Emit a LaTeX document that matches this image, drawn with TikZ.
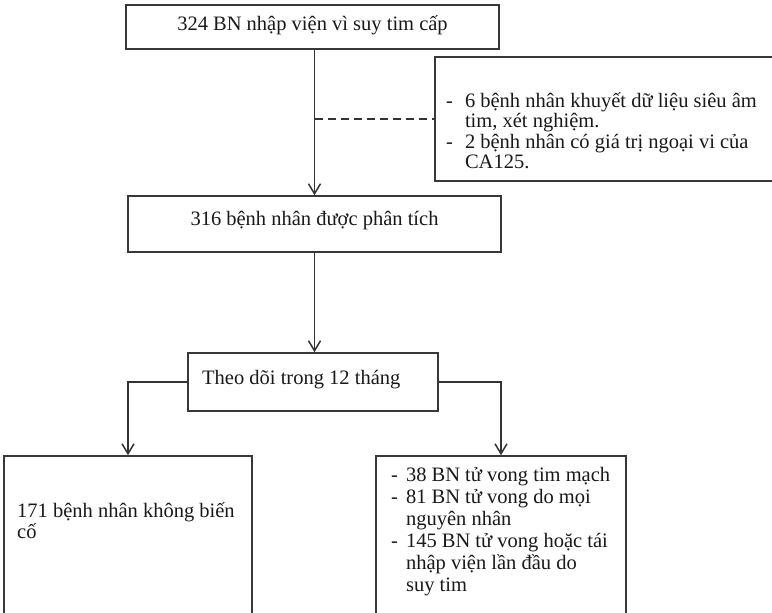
\documentclass[tikz,border=0pt]{standalone}
\usepackage{fontspec}
\setmainfont{Liberation Serif}
\usetikzlibrary{arrows.meta}
\begin{document}
\begin{tikzpicture}[x=1pt,y=-1pt,
  box/.style={draw=black!78, line width=1.6pt, rectangle, inner sep=0pt},
  lbl/.style={inner sep=0pt, text=black!90, font=\fontsize{20.5}{21}\selectfont},
  conn/.style={draw=black!80, line width=1.5pt},
  arr/.style={conn, -{Straight Barb[length=10pt,width=12pt,line width=1.5pt]}},
  dashline/.style={conn, dash pattern=on 8pt off 5pt}]
\useasboundingbox (0,0) rectangle (772,613);
\clip (0,0) rectangle (772,613);
% boxes
\node[box, minimum width=373pt, minimum height=44pt] (n1) at (312.5,27) {};
\node[lbl, anchor=base] (t1) at (312.5,30.5) {324 BN nhập viện vì suy tim cấp};
\node[box, minimum width=373pt, minimum height=56pt] (n2) at (314.5,224) {};
\node[lbl, anchor=base] (t2) at (314.5,225) {316 bệnh nhân được phân tích};
\node[box, minimum width=355pt, minimum height=124pt] (side) at (612.5,119) {};
\node[lbl, font=\fontsize{20.5}{20.5}\selectfont, anchor=base west] (ts) at (446,107) {\begin{tabular}[t]{@{}l@{\hspace{12pt}}l@{}}-&6 bệnh nhân khuyết dữ liệu siêu âm\\&tim, xét nghiệm.\\-&2 bệnh nhân có giá trị ngoại vi của\\&CA125.\end{tabular}};
\node[box, minimum width=250pt, minimum height=58pt] (n3) at (313,382) {};
\node[lbl, anchor=base west] (t3) at (202,384) {Theo dõi trong 12 tháng};
\node[box, minimum width=248pt, minimum height=184pt] (n4) at (128,548) {};
\node[lbl, anchor=base west] (t4) at (17,517) {\begin{tabular}[t]{@{}l@{}}171 bệnh nhân không biến\\cố\end{tabular}};
\node[box, minimum width=250pt, minimum height=184pt] (n5) at (501,548) {};
\node[lbl, font=\fontsize{20.5}{22}\selectfont, anchor=base west] (t5) at (391,481) {\begin{tabular}[t]{@{}l@{\hspace{8pt}}l@{}}-&38 BN tử vong tim mạch\\-&81 BN tử vong do mọi\\&nguyên nhân\\-&145 BN tử vong hoặc tái\\&nhập viện lần đầu do\\&suy tim\end{tabular}};
% connectors
\draw[arr] (n1.south -| n2.north) -- (n2.north);
\draw[dashline] (n2.north |- side.west) -- (side.west);
\draw[arr] (n2.south) -- (n2.south |- n3.north);
\draw[arr] (n3.west) -| (n4.north);
\draw[arr] (n3.east) -| (n5.north);
\end{tikzpicture}
\end{document}
